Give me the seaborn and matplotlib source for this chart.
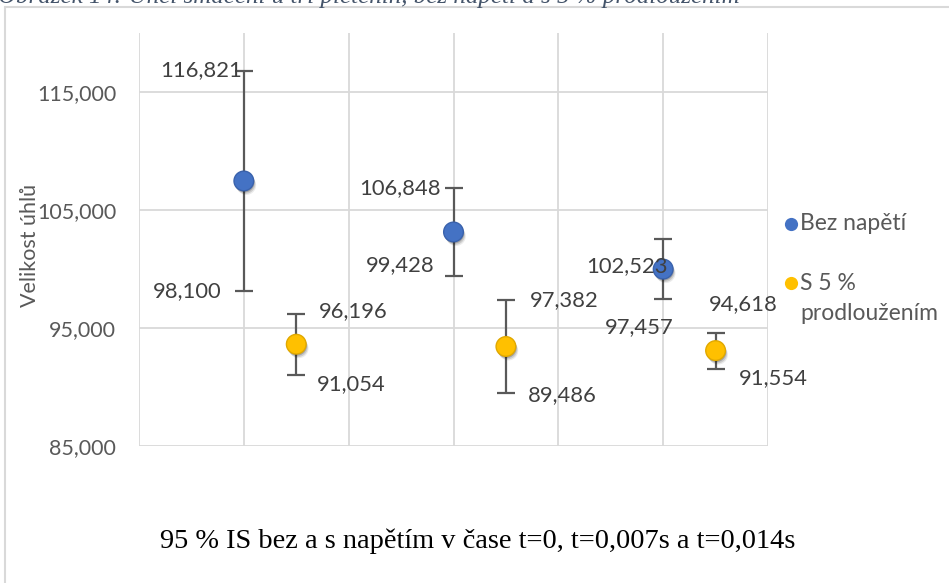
import numpy as np
import pandas as pd
import seaborn as sns
import matplotlib.pyplot as plt
import matplotlib.patheffects as pe
from matplotlib.lines import Line2D
from matplotlib.ticker import FixedLocator, FuncFormatter

# Confidence interval bounds (degrees) for the three time points
series_names = ["Bez napětí", "S 5 % prodloužením"]
x_bez = [1.0, 3.0, 5.0]
x_s5 = [1.5, 3.5, 5.5]
upper_bez = [116.821, 106.848, 102.523]
lower_bez = [98.100, 99.428, 97.457]
upper_s5 = [96.196, 97.382, 94.618]
lower_s5 = [91.054, 89.486, 91.554]
y_ticks = [85, 95, 105, 115]

colors = {"Bez napětí": "#4472C4", "S 5 % prodloužením": "#FFC000"}
edges = {"Bez napětí": "#3A62AC", "S 5 % prodloužením": "#E0A800"}

rows = []
for name, xs, lo, hi in [(series_names[0], x_bez, lower_bez, upper_bez),
                         (series_names[1], x_s5, lower_s5, upper_s5)]:
    for x, l, h in zip(xs, lo, hi):
        rows.append({"serie": name, "x": x, "low": l, "high": h, "mean": (l + h) / 2})
df = pd.DataFrame(rows)

sns.set_theme(style="white")
plt.rcParams["font.family"] = ["Lato", "DejaVu Sans"]

W, H = 949, 583
fig = plt.figure(figsize=(W / 100, H / 100), dpi=100)
ax = fig.add_axes([139 / W, 1 - 446 / H, 629 / W, 413 / H])

ax.set_xlim(0, 6)
ax.set_ylim(85, 120)

grid_c = "#D9D9D9"
for v in range(0, 7):
    ax.axvline(v, color=grid_c, lw=1.3, zorder=0)
for v in y_ticks:
    ax.axhline(v, color=grid_c, lw=1.3, zorder=0)
for s in ax.spines.values():
    s.set_visible(False)

ax.xaxis.set_visible(False)
ax.yaxis.set_major_locator(FixedLocator(y_ticks))
ax.yaxis.set_major_formatter(FuncFormatter(lambda v, p: f"{v:.3f}".replace(".", ",")))
ax.tick_params(axis="y", length=0, pad=16.5, labelsize=15.5, labelcolor="#595959")

# Error bars (95 % confidence interval)
for name in series_names:
    sub = df[df["serie"] == name]
    ax.errorbar(sub["x"], sub["mean"],
                yerr=[sub["mean"] - sub["low"], sub["high"] - sub["mean"]],
                fmt="none", ecolor="#595959", elinewidth=1.6, capsize=6.5,
                capthick=1.6, zorder=2)

# Soft drop shadow under the markers
shadow = [pe.SimplePatchShadow(offset=(1.8, -3), shadow_rgbFace="black", alpha=0.08, rho=1),
          pe.SimplePatchShadow(offset=(1.2, -2.2), shadow_rgbFace="black", alpha=0.13, rho=1),
          pe.SimplePatchShadow(offset=(0.6, -1.2), shadow_rgbFace="black", alpha=0.2, rho=1),
          pe.Normal()]
sns.scatterplot(data=df, x="x", y="mean", hue="serie", palette=colors,
                s=200, linewidth=1.0, legend=False, ax=ax, zorder=3)
coll = ax.collections[-1]
coll.set_edgecolors([edges[n] for n in df["serie"]])
coll.set_path_effects(shadow)
ax.set_xlabel("")
ax.set_ylabel("")

# Value labels at the ends of the error bars
lab_kw = dict(fontsize=15.8, color="#404040", textcoords="offset pixels", va="center")
label_offsets = {
    ("Bez napětí", 0): ((-2, 0), (-22, 0), "right"),
    ("Bez napětí", 1): ((-13, 0), (-19, 11), "right"),
    ("Bez napětí", 2): ((5, -27), (10, -28), "right"),
    ("S 5 % prodloužením", 0): ((23, 3), (21, -10), "left"),
    ("S 5 % prodloužením", 1): ((24, 0), (22, -2), "left"),
    ("S 5 % prodloužením", 2): ((-7, 28), (23, -9), "left"),
}
fmt = lambda v: f"{v:.3f}".replace(".", ",")
for name in series_names:
    sub = df[df["serie"] == name].reset_index(drop=True)
    for i, r in sub.iterrows():
        (ot, ob, ha) = label_offsets[(name, i)]
        ax.annotate(fmt(r["high"]), (r["x"], r["high"]), xytext=ot, ha=ha, **lab_kw)
        ax.annotate(fmt(r["low"]), (r["x"], r["low"]), xytext=ob, ha=ha, **lab_kw)

# Axis title
fig.text(30 / W, 1 - 245 / H, "Velikost úhlů", rotation=90, ha="center", va="center",
         fontsize=15.5, color="#595959")

# Legend
for name, ypx in [("Bez napětí", 224), ("S 5 % prodloužením", 283)]:
    fig.add_artist(Line2D([791 / W], [1 - ypx / H], marker="o", markersize=9.5,
                          color=colors[name], markeredgewidth=0,
                          transform=fig.transFigure))
leg_kw = dict(ha="left", va="center", fontsize=16.5, color="#595959")
fig.text(800 / W, 1 - 224 / H, "Bez napětí", **leg_kw)
fig.text(800 / W, 1 - 283 / H, "S 5 %", **leg_kw)
fig.text(800 / W, 1 - 313 / H, "prodloužením", **leg_kw)

# Caption inside the chart frame
fig.text(160 / W, 1 - 541 / H, "95 % IS bez a s napětím v čase t=0, t=0,007s a t=0,014s",
         ha="left", va="center", fontsize=20.4, color="black",
         family=["Liberation Serif", "DejaVu Serif"])

# Chart frame
fig.add_artist(Line2D([5 / W, 5 / W], [0, 1 - 7 / H], color=grid_c, lw=1.5,
                      transform=fig.transFigure))
fig.add_artist(Line2D([5 / W, 1], [1 - 7 / H, 1 - 7 / H], color=grid_c, lw=1.5,
                      transform=fig.transFigure))

# Figure caption of the document above the chart
fig.text(-2 / W, 1 - 2.5 / H,
         "Obrázek 14: Úhel smáčení u tří pletenin, bez napětí a s 5 % prodloužením",
         ha="left", va="baseline", fontsize=18, style="italic", color="#44546A",
         family=["Liberation Serif", "DejaVu Serif"])

fig.savefig("out.png", dpi=100)
